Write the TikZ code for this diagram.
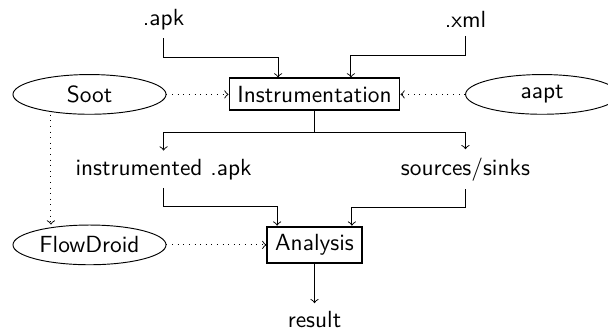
\documentclass[tikz,border=0pt]{standalone}
\usepackage{amsmath}
\usetikzlibrary{shapes.geometric,calc,positioning}

\begin{document}
\begin{tikzpicture}[node distance=32pt and 64.6pt, on grid, font=\sffamily,
		phase/.style={draw,thick,rectangle},
		tool/.style={draw,ellipse,minimum width=65.5pt,minimum height=17pt,inner sep=1pt}]
				\useasboundingbox (-134.6pt,-102.1pt) rectangle (125.6pt,40.4pt);
				\node[phase] (instr) {Instrumentation};
				\node [above left=of instr] (apk) {.apk};
				\node [above right=of instr] (xml) {.xml};
				\node[tool] [left=96.3pt of instr] (soot) {Soot};
				\node[tool] [right=97.4pt of instr] (aapt) {aapt};
				\node [below left=of instr] (iapk) {instrumented .apk};
				\node [below right=of instr] (srcsnk) {sources/sinks};
				\node[phase] [below=64.4pt of instr] (ana) {Analysis};
				\node[tool] [left=96.3pt of ana] (fd) {FlowDroid};
				\node [below=of ana] (res) {result};
				% inputs and outputs
				\draw[->] (apk.south) -- ++(0,-8.3pt) -| ([xshift=-15.6pt]instr.north);
				\draw[->] (xml.south) -- ++(0,-8.3pt) -| ([xshift=15.6pt]instr.north);
				\draw[->] (instr.south) -- ++(0,-9pt) coordinate (split) -| (iapk.north);
				\draw[->] (split) -| (srcsnk.north);
				\draw[->] (iapk.south) -- ++(0,-8pt) -| ([xshift=-16pt]ana.north);
				\draw[->] (srcsnk.south) -- ++(0,-8pt) -| ([xshift=16pt]ana.north);
				\draw[->] (ana) -- (res);
				% tools
				\path[->,dotted]
					(soot) edge (instr)
					(aapt) edge (instr)
					(fd) edge (ana)
					([xshift=-16.5pt]soot.south) edge ([xshift=-16.5pt]fd.north);
			\end{tikzpicture}
\end{document}
